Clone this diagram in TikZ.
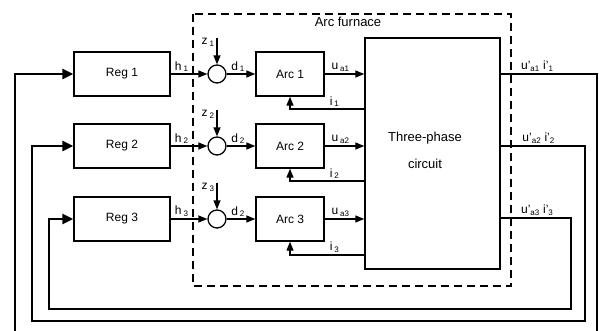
\documentclass[tikz,border=0pt]{standalone}
\usepackage{fontspec}
\setmainfont{Liberation Sans}
\usetikzlibrary{arrows.meta}

\begin{document}
\begin{tikzpicture}[x=1pt, y=-1pt, font=\fontsize{12}{14}\selectfont,
    blok/.style={draw, line width=1.4pt, inner sep=0pt, minimum height=44pt},
    sumc/.style={draw, circle, line width=1.3pt, minimum size=18pt, inner sep=0pt},
    pil/.style={line width=1.3pt, -{Triangle[length=9pt,width=7pt]}},
    ret/.style={line width=2.8pt, -{Triangle[length=11pt,width=10pt]}},
    furnbox/.style={line width=1.8pt, dash pattern=on 8pt off 5pt},
    lbl/.style={inner sep=1.5pt}]
        \useasboundingbox (0,0) rectangle (599,331);
        \clip (0,0) rectangle (599,331);

        % Oven (dashed)
        \draw[furnbox] (193,14) rectangle (511,286);
        \node[font=\fontsize{13}{15}\selectfont] (furn) at (348,22) {Arc furnace};

        % Blocs
        \node[blok, minimum width=96pt] (reg1) at (122,74) {Reg 1};
        \node[blok, minimum width=96pt] (reg2) at (122,146) {Reg 2};
        \node[blok, minimum width=96pt] (reg3) at (122,219) {Reg 3};
        \node[sumc] (sum1) at (217,74) {};
        \node[sumc] (sum2) at (217,146) {};
        \node[sumc] (sum3) at (217,219) {};
        \node[blok, minimum width=68pt] (arc1) at (290,74) {Arc 1};
        \node[blok, minimum width=68pt] (arc2) at (290,146) {Arc 2};
        \node[blok, minimum width=68pt] (arc3) at (290,219) {Arc 3};
        \node[blok, minimum width=135pt, minimum height=231pt] (circ) at (432.5,153.5) {};
        \node[align=center, font=\fontsize{13}{15}\selectfont] (circtxt) at (425,150) {Three-phase\\[12pt]circuit};

        % Pertorbacions z
        \coordinate (zin1) at (217,38);
        \coordinate (zin2) at (217,110);
        \coordinate (zin3) at (217,183);
        \draw[pil] (zin1) -- (sum1.north);
        \draw[pil] (zin2) -- (sum2.north);
        \draw[pil] (zin3) -- (sum3.north);
        \node[lbl] (z1) at (208,42) {z\,\textsubscript{1}};
        \node[lbl] (z2) at (208,114) {z\,\textsubscript{2}};
        \node[lbl] (z3) at (208,187) {z\,\textsubscript{3}};

        % Reg -> suma -> Arc -> circuit
        \draw[pil] (reg1.east) -- node[lbl, above, pos=0.3] (h1) {h\,\textsubscript{1}} (sum1.west);
        \draw[pil] (reg2.east) -- node[lbl, above, pos=0.3] (h2) {h\,\textsubscript{2}} (sum2.west);
        \draw[pil] (reg3.east) -- node[lbl, above, pos=0.3] (h3) {h\,\textsubscript{3}} (sum3.west);
        \draw[pil] (sum1.east) -- node[lbl, above, pos=0.4] (d1) {d\,\textsubscript{1}} (arc1.west);
        \draw[pil] (sum2.east) -- node[lbl, above, pos=0.4] (d2) {d\,\textsubscript{2}} (arc2.west);
        \draw[pil] (sum3.east) -- node[lbl, above, pos=0.4] (d3) {d\,\textsubscript{2}} (arc3.west);
        \draw[pil] (arc1.east) -- node[lbl, above, pos=0.4] (ua1) {u\,\textsubscript{a1}} (circ.west |- arc1.east);
        \draw[pil] (arc2.east) -- node[lbl, above, pos=0.4] (ua2) {u\,\textsubscript{a2}} (circ.west |- arc2.east);
        \draw[pil] (arc3.east) -- node[lbl, above, pos=0.4] (ua3) {u\,\textsubscript{a3}} (circ.west |- arc3.east);

        % Corrents i
        \draw[pil] (circ.west |- 0,109) -| node[lbl, above, pos=0.2] (i1) {i\,\textsubscript{1}} (arc1.south);
        \draw[pil] (circ.west |- 0,181) -| node[lbl, above, pos=0.2] (i2) {i\,\textsubscript{2}} (arc2.south);
        \draw[pil] (circ.west |- 0,255) -| node[lbl, above, pos=0.2] (i3) {i\,\textsubscript{3}} (arc3.south);

        % Realimentacio
        \draw[ret] (circ.east |- reg1.east) -- node[lbl, above, pos=0.38] (o1) {u'\textsubscript{a1} i'\textsubscript{1}} (597,74)
              -- (597,336) -- (15,336) -- (15,74) -- (reg1.west);
        \draw[ret] (circ.east |- reg2.east) -- node[lbl, above, pos=0.45] (o2) {u'\textsubscript{a2} i'\textsubscript{2}} (585,146)
              -- (585,321) -- (32,321) -- (32,146) -- (reg2.west);
        \draw[ret] (circ.east |- 0,218) -- node[lbl, above, pos=0.52] (o3) {u'\textsubscript{a3} i'\textsubscript{3}} (571,218)
              -- (571,309) -- (49,309) -- (49,219) -- (reg3.west);
    \end{tikzpicture}
\end{document}
